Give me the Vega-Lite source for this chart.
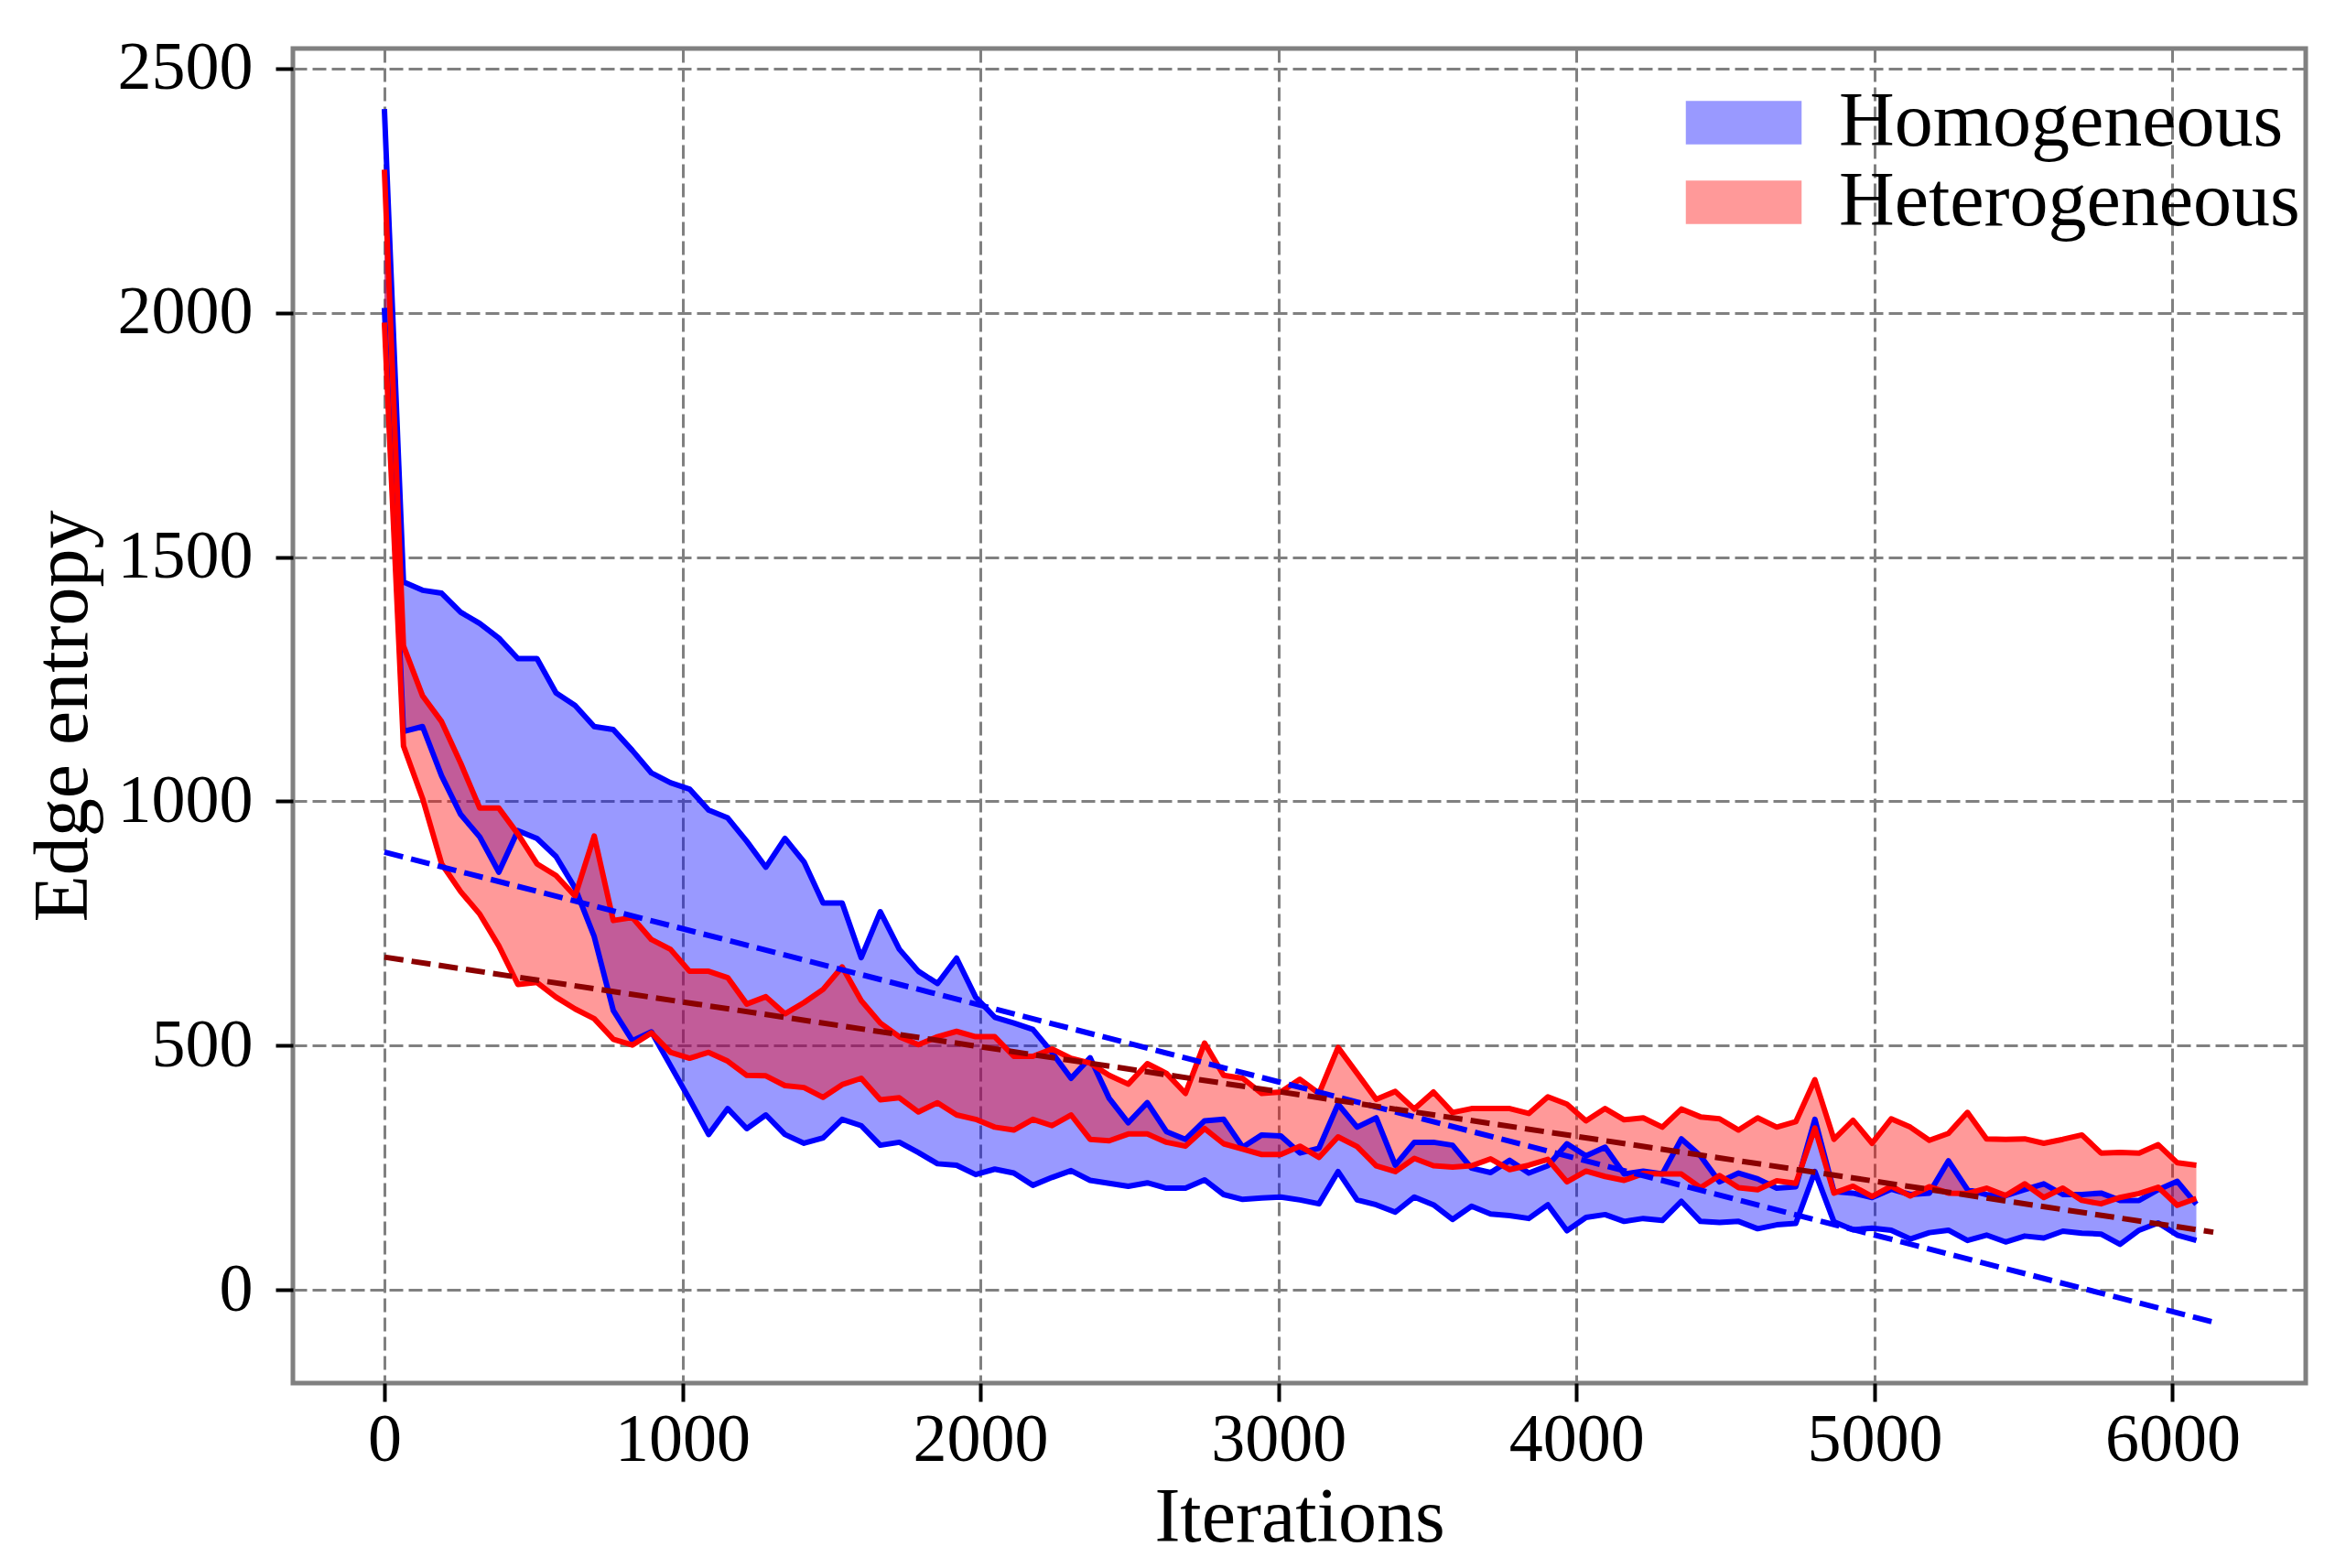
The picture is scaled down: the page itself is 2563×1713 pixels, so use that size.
{
  "$schema": "https://vega.github.io/schema/vega-lite/v6.json",
  "width": 2199,
  "height": 1458,
  "autosize": {"type": "none"},
  "padding": {"left": 320, "top": 53, "right": 44, "bottom": 202},
  "background": "white",
  "config": {
    "view": {"stroke": "#808080", "strokeWidth": 5},
    "font": "Liberation Serif",
    "axis": {
      "domain": false,
      "grid": true,
      "gridColor": "#808080",
      "gridDash": [15, 6],
      "gridWidth": 3,
      "gridOpacity": 1,
      "tickColor": "black",
      "tickWidth": 4,
      "tickSize": 20,
      "labelFont": "Liberation Serif",
      "labelFontSize": 74,
      "labelColor": "black",
      "titleFont": "Liberation Serif",
      "titleFontSize": 84,
      "titleFontWeight": "normal",
      "titleColor": "black"
    }
  },
  "data": {
    "values": [
      {"it": 0, "bu": 2417, "bl": 2010, "ru": 2293, "rl": 1980},
      {"it": 64, "bu": 1449, "bl": 1143, "ru": 1318, "rl": 1113},
      {"it": 128, "bu": 1432, "bl": 1153, "ru": 1216, "rl": 1006},
      {"it": 192, "bu": 1426, "bl": 1052, "ru": 1163, "rl": 872},
      {"it": 256, "bu": 1387, "bl": 973, "ru": 1078, "rl": 815},
      {"it": 320, "bu": 1364, "bl": 927, "ru": 986, "rl": 769},
      {"it": 384, "bu": 1334, "bl": 855, "ru": 986, "rl": 704},
      {"it": 448, "bu": 1292, "bl": 940, "ru": 933, "rl": 625},
      {"it": 512, "bu": 1292, "bl": 924, "ru": 872, "rl": 629},
      {"it": 576, "bu": 1222, "bl": 887, "ru": 848, "rl": 599},
      {"it": 640, "bu": 1196, "bl": 822, "ru": 806, "rl": 575},
      {"it": 704, "bu": 1153, "bl": 723, "ru": 929, "rl": 555},
      {"it": 768, "bu": 1147, "bl": 572, "ru": 756, "rl": 513},
      {"it": 832, "bu": 1104, "bl": 510, "ru": 762, "rl": 501},
      {"it": 896, "bu": 1058, "bl": 528, "ru": 717, "rl": 526},
      {"it": 960, "bu": 1038, "bl": 459, "ru": 697, "rl": 486},
      {"it": 1024, "bu": 1025, "bl": 390, "ru": 652, "rl": 474},
      {"it": 1088, "bu": 982, "bl": 318, "ru": 652, "rl": 486},
      {"it": 1152, "bu": 966, "bl": 371, "ru": 639, "rl": 468},
      {"it": 1216, "bu": 918, "bl": 330, "ru": 585, "rl": 439},
      {"it": 1280, "bu": 865, "bl": 358, "ru": 600, "rl": 438},
      {"it": 1344, "bu": 924, "bl": 318, "ru": 565, "rl": 418},
      {"it": 1408, "bu": 876, "bl": 300, "ru": 588, "rl": 414},
      {"it": 1472, "bu": 792, "bl": 311, "ru": 615, "rl": 394},
      {"it": 1536, "bu": 792, "bl": 349, "ru": 661, "rl": 420},
      {"it": 1600, "bu": 680, "bl": 336, "ru": 592, "rl": 433},
      {"it": 1664, "bu": 774, "bl": 296, "ru": 546, "rl": 389},
      {"it": 1728, "bu": 697, "bl": 302, "ru": 518, "rl": 393},
      {"it": 1792, "bu": 652, "bl": 281, "ru": 502, "rl": 364},
      {"it": 1856, "bu": 627, "bl": 258, "ru": 518, "rl": 383},
      {"it": 1920, "bu": 679, "bl": 255, "ru": 529, "rl": 358},
      {"it": 1984, "bu": 599, "bl": 236, "ru": 518, "rl": 349},
      {"it": 2048, "bu": 558, "bl": 247, "ru": 518, "rl": 333},
      {"it": 2112, "bu": 546, "bl": 239, "ru": 478, "rl": 327},
      {"it": 2176, "bu": 533, "bl": 214, "ru": 478, "rl": 349},
      {"it": 2240, "bu": 486, "bl": 230, "ru": 493, "rl": 336},
      {"it": 2304, "bu": 433, "bl": 244, "ru": 474, "rl": 358},
      {"it": 2368, "bu": 475, "bl": 224, "ru": 464, "rl": 308},
      {"it": 2432, "bu": 392, "bl": 218, "ru": 439, "rl": 305},
      {"it": 2496, "bu": 342, "bl": 212, "ru": 421, "rl": 319},
      {"it": 2560, "bu": 383, "bl": 219, "ru": 463, "rl": 319},
      {"it": 2624, "bu": 324, "bl": 208, "ru": 443, "rl": 302},
      {"it": 2688, "bu": 308, "bl": 208, "ru": 402, "rl": 294},
      {"it": 2752, "bu": 346, "bl": 225, "ru": 505, "rl": 330},
      {"it": 2816, "bu": 349, "bl": 195, "ru": 439, "rl": 299},
      {"it": 2880, "bu": 292, "bl": 185, "ru": 433, "rl": 288},
      {"it": 2944, "bu": 317, "bl": 188, "ru": 402, "rl": 277},
      {"it": 3008, "bu": 315, "bl": 190, "ru": 405, "rl": 277},
      {"it": 3072, "bu": 280, "bl": 184, "ru": 431, "rl": 294},
      {"it": 3136, "bu": 290, "bl": 176, "ru": 402, "rl": 271},
      {"it": 3200, "bu": 380, "bl": 242, "ru": 496, "rl": 313},
      {"it": 3264, "bu": 333, "bl": 184, "ru": 443, "rl": 293},
      {"it": 3328, "bu": 352, "bl": 174, "ru": 390, "rl": 254},
      {"it": 3392, "bu": 255, "bl": 159, "ru": 406, "rl": 242},
      {"it": 3456, "bu": 302, "bl": 190, "ru": 370, "rl": 269},
      {"it": 3520, "bu": 302, "bl": 174, "ru": 405, "rl": 254},
      {"it": 3584, "bu": 296, "bl": 144, "ru": 363, "rl": 251},
      {"it": 3648, "bu": 249, "bl": 171, "ru": 371, "rl": 254},
      {"it": 3712, "bu": 240, "bl": 155, "ru": 371, "rl": 268},
      {"it": 3776, "bu": 265, "bl": 152, "ru": 371, "rl": 246},
      {"it": 3840, "bu": 239, "bl": 146, "ru": 361, "rl": 255},
      {"it": 3904, "bu": 254, "bl": 174, "ru": 395, "rl": 267},
      {"it": 3968, "bu": 299, "bl": 121, "ru": 380, "rl": 221},
      {"it": 4032, "bu": 274, "bl": 148, "ru": 346, "rl": 243},
      {"it": 4096, "bu": 292, "bl": 154, "ru": 371, "rl": 232},
      {"it": 4160, "bu": 237, "bl": 140, "ru": 348, "rl": 224},
      {"it": 4224, "bu": 243, "bl": 146, "ru": 352, "rl": 238},
      {"it": 4288, "bu": 237, "bl": 142, "ru": 333, "rl": 237},
      {"it": 4352, "bu": 309, "bl": 181, "ru": 370, "rl": 237},
      {"it": 4416, "bu": 274, "bl": 140, "ru": 354, "rl": 209},
      {"it": 4480, "bu": 221, "bl": 138, "ru": 350, "rl": 234},
      {"it": 4544, "bu": 239, "bl": 140, "ru": 327, "rl": 209},
      {"it": 4608, "bu": 227, "bl": 125, "ru": 352, "rl": 205},
      {"it": 4672, "bu": 208, "bl": 133, "ru": 333, "rl": 223},
      {"it": 4736, "bu": 211, "bl": 136, "ru": 344, "rl": 218},
      {"it": 4800, "bu": 349, "bl": 242, "ru": 430, "rl": 331},
      {"it": 4864, "bu": 201, "bl": 139, "ru": 308, "rl": 198},
      {"it": 4928, "bu": 198, "bl": 123, "ru": 347, "rl": 212},
      {"it": 4992, "bu": 189, "bl": 126, "ru": 300, "rl": 191},
      {"it": 5056, "bu": 206, "bl": 122, "ru": 350, "rl": 212},
      {"it": 5120, "bu": 195, "bl": 104, "ru": 333, "rl": 192},
      {"it": 5184, "bu": 198, "bl": 117, "ru": 306, "rl": 211},
      {"it": 5248, "bu": 264, "bl": 122, "ru": 320, "rl": 198},
      {"it": 5312, "bu": 205, "bl": 101, "ru": 363, "rl": 197},
      {"it": 5376, "bu": 195, "bl": 112, "ru": 309, "rl": 208},
      {"it": 5440, "bu": 193, "bl": 98, "ru": 308, "rl": 193},
      {"it": 5504, "bu": 205, "bl": 110, "ru": 309, "rl": 217},
      {"it": 5568, "bu": 217, "bl": 106, "ru": 300, "rl": 189},
      {"it": 5632, "bu": 195, "bl": 120, "ru": 308, "rl": 208},
      {"it": 5696, "bu": 195, "bl": 116, "ru": 317, "rl": 183},
      {"it": 5760, "bu": 198, "bl": 114, "ru": 280, "rl": 176},
      {"it": 5824, "bu": 183, "bl": 93, "ru": 281, "rl": 189},
      {"it": 5888, "bu": 183, "bl": 122, "ru": 280, "rl": 197},
      {"it": 5952, "bu": 205, "bl": 137, "ru": 297, "rl": 210},
      {"it": 6016, "bu": 222, "bl": 112, "ru": 260, "rl": 173},
      {"it": 6080, "bu": 175, "bl": 101, "ru": 255, "rl": 187}
    ]
  },
  "encoding": {
    "x": {
      "field": "it",
      "type": "quantitative",
      "title": "Iterations",
      "scale": {"domain": [-307, 6447], "nice": false, "zero": false},
      "axis": {
        "values": [0, 1000, 2000, 3000, 4000, 5000, 6000],
        "format": "d",
        "labelPadding": 6,
        "titleY": 172,
        "titleBaseline": "alphabetic"
      }
    }
  },
  "layer": [
    {
      "mark": {"type": "area", "opacity": 0.4},
      "encoding": {
        "y": {
          "field": "bl",
          "type": "quantitative",
          "title": "Edge entropy",
          "scale": {"domain": [-191, 2541], "nice": false, "zero": false},
          "axis": {
            "values": [0, 500, 1000, 1500, 2000, 2500],
            "format": "d",
            "tickSize": 19,
            "labelPadding": 25,
            "titleX": -226,
            "titleY": 729,
            "titleAngle": 270,
            "titleAlign": "center",
            "titleBaseline": "alphabetic"
          }
        },
        "y2": {"field": "bu"},
        "fill": {
          "datum": "Homogeneous",
          "type": "nominal",
          "scale": {"domain": ["Homogeneous", "Heterogeneous"], "range": ["blue", "red"]},
          "legend": {
            "title": null,
            "orient": "none",
            "legendX": 1543,
            "legendY": 39,
            "padding": 0,
            "symbolType": "M-2,-0.75H2V0.75H-2Z",
            "symbolSize": 4000,
            "symbolOpacity": 0.4,
            "symbolStrokeWidth": 0,
            "labelFont": "Liberation Serif",
            "labelFontSize": 84,
            "labelColor": "black",
            "labelOffset": 62,
            "labelLimit": 0,
            "rowPadding": 3
          }
        }
      }
    },
    {
      "mark": {"type": "area", "opacity": 0.4},
      "encoding": {
        "y": {"field": "rl", "type": "quantitative"},
        "y2": {"field": "ru"},
        "fill": {"datum": "Heterogeneous", "type": "nominal"}
      }
    },
    {
      "mark": {"type": "line", "color": "blue", "strokeWidth": 6, "strokeJoin": "round"},
      "encoding": {"y": {"field": "bu", "type": "quantitative"}}
    },
    {
      "mark": {"type": "line", "color": "blue", "strokeWidth": 6, "strokeJoin": "round"},
      "encoding": {"y": {"field": "bl", "type": "quantitative"}}
    },
    {
      "mark": {"type": "line", "color": "red", "strokeWidth": 6, "strokeJoin": "round"},
      "encoding": {"y": {"field": "ru", "type": "quantitative"}}
    },
    {
      "mark": {"type": "line", "color": "red", "strokeWidth": 6, "strokeJoin": "round"},
      "encoding": {"y": {"field": "rl", "type": "quantitative"}}
    },
    {
      "data": {
        "values": [
          {"it": 0, "fit": 896, "g": "Homogeneous fit"},
          {"it": 6137, "fit": -66, "g": "Homogeneous fit"},
          {"it": 0, "fit": 681, "g": "Heterogeneous fit"},
          {"it": 6137, "fit": 118, "g": "Heterogeneous fit"}
        ]
      },
      "mark": {"type": "line", "strokeWidth": 6, "strokeDash": [21, 9]},
      "encoding": {
        "y": {"field": "fit", "type": "quantitative"},
        "stroke": {
          "field": "g",
          "type": "nominal",
          "scale": {"domain": ["Homogeneous fit", "Heterogeneous fit"], "range": ["blue", "#8b0000"]},
          "legend": null
        }
      }
    }
  ]
}
